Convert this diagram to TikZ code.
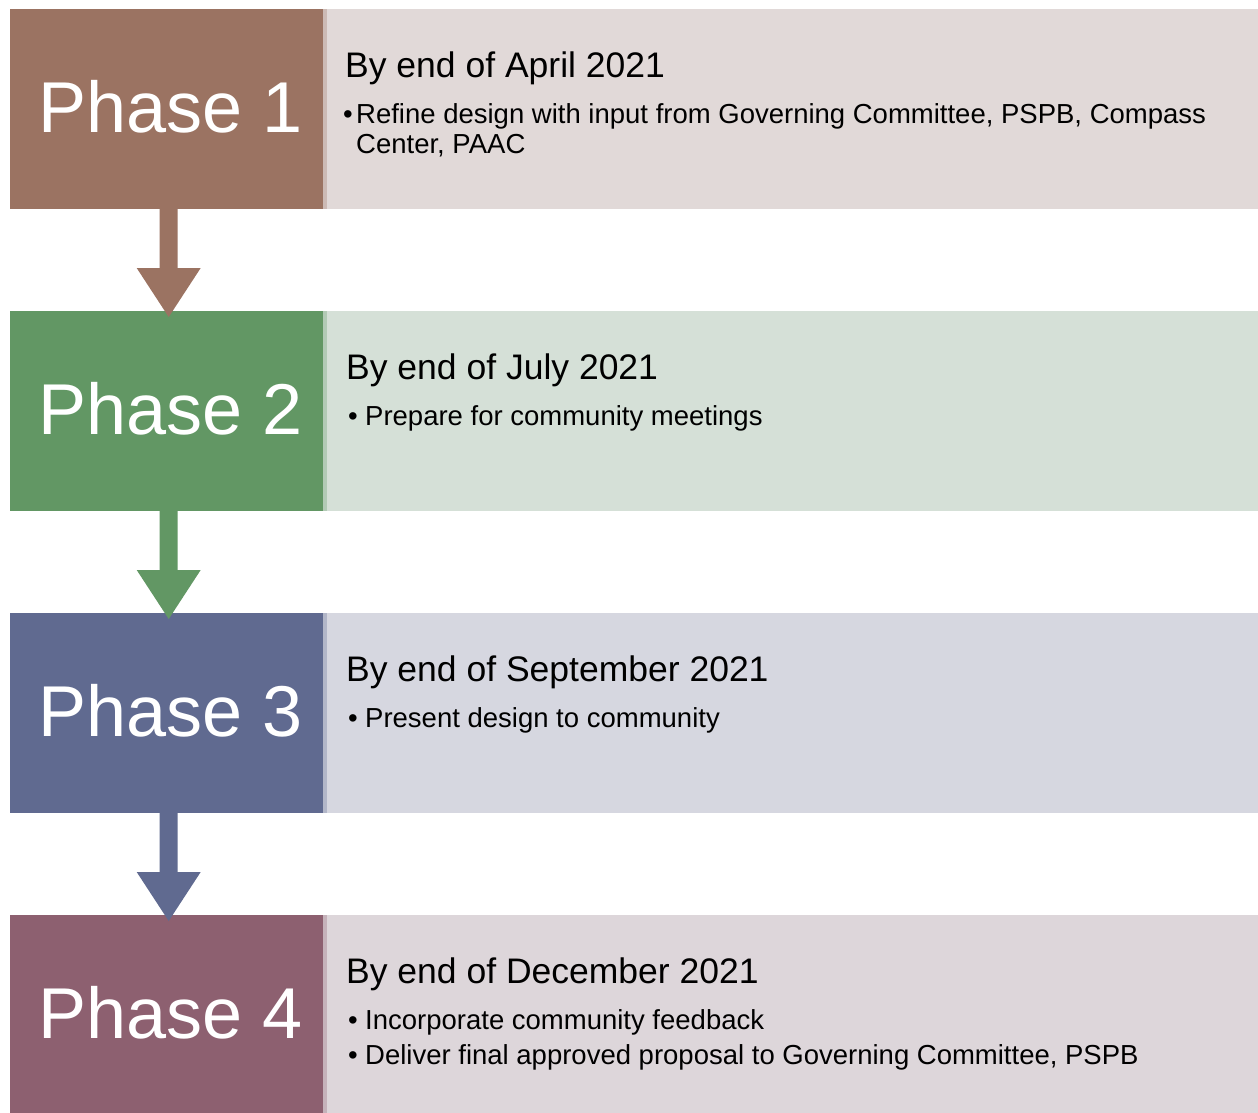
\documentclass[tikz,border=0pt]{standalone}
\usepackage{fontspec}
\setmainfont{Liberation Sans}
\usetikzlibrary{calc}
\definecolor{darkA}{HTML}{9B7362}
\definecolor{lightA}{HTML}{E1D9D8}
\definecolor{darkB}{HTML}{629764}
\definecolor{lightB}{HTML}{D5E0D7}
\definecolor{darkC}{HTML}{606A90}
\definecolor{lightC}{HTML}{D6D7E0}
\definecolor{darkD}{HTML}{8D6070}
\definecolor{lightD}{HTML}{DDD6DA}
\begin{document}
\begin{tikzpicture}[x=1pt,y=-1pt,
  darkbox/.style={draw=none,minimum width=313pt,minimum height=200pt,inner sep=0pt,outer sep=0pt},
  lightbox/.style={draw=none,minimum width=935pt,minimum height=200pt,inner sep=0pt,outer sep=0pt},
  phaselbl/.style={text=white,anchor=base west,inner sep=0pt,font=\fontsize{72}{72}\selectfont},
  titlelbl/.style={anchor=base west,inner sep=0pt,font=\fontsize{35.5}{40}\selectfont},
  itemlbl/.style={anchor=base west,inner sep=0pt,font=\fontsize{27.5}{30}\selectfont},
  bulletlbl/.style={anchor=base west,inner sep=0pt,font=\fontsize{27.5}{30}\selectfont},
]
\useasboundingbox[fill=white] (0,0) rectangle (1258,1112);

% boxes
\foreach \k/\c in {0/A,1/B,2/C,3/D}{
  \pgfmathsetmacro{\T}{9+302*\k}
  \node[lightbox,fill=light\c] (l\c) at (790.5,\T+100) {};
  \fill[dark\c!30!light\c] (323,\T) rectangle (327,\T+200);
  \node[darkbox,fill=dark\c] (d\c) at (166.5,\T+100) {};
}

% arrows
\foreach \a/\b in {A/B,B/C,C/D}{
  \coordinate (s\a) at ($(d\a.south)+(2.2,-1)$);
  \fill[dark\a] ($(s\a)+(-9,0)$) -- ($(s\a)+(9,0)$) -- ($(s\a)+(9,60)$) -- ($(s\a)+(32,60)$)
     -- ($(d\b.north)+(2.2,6)$) -- ($(s\a)+(-32,60)$) -- ($(s\a)+(-9,60)$) -- cycle;
}

% phase labels
\node[phaselbl] (pA) at (38,132) {Phase 1};
\node[phaselbl] (pB) at (38,434) {Phase 2};
\node[phaselbl] (pC) at (38,736) {Phase 3};
\node[phaselbl] (pD) at (38,1038) {Phase 4};

% titles
\node[titlelbl] (tA) at (345,77) {By end of April 2021};
\node[titlelbl] (tB) at (346,379) {By end of July 2021};
\node[titlelbl] (tC) at (346,681) {By end of September 2021};
\node[titlelbl] (tD) at (346,983) {By end of December 2021};

% items
\node[bulletlbl] (bA1) at (343,123) {•};
\node[itemlbl] (iA1) at (356,123) {Refine design with input from Governing Committee, PSPB, Compass};
\node[itemlbl] (iA2) at (356,153) {Center, PAAC};

\node[bulletlbl] (bB1) at (348,425) {•};
\node[itemlbl] (iB1) at (365,425) {Prepare for community meetings};

\node[bulletlbl] (bC1) at (348,727) {•};
\node[itemlbl] (iC1) at (365,727) {Present design to community};

\node[bulletlbl] (bD1) at (348,1029) {•};
\node[itemlbl] (iD1) at (365,1029) {Incorporate community feedback};
\node[bulletlbl] (bD2) at (348,1064) {•};
\node[itemlbl] (iD2) at (365,1064) {Deliver final approved proposal to Governing Committee, PSPB};
\end{tikzpicture}
\end{document}
